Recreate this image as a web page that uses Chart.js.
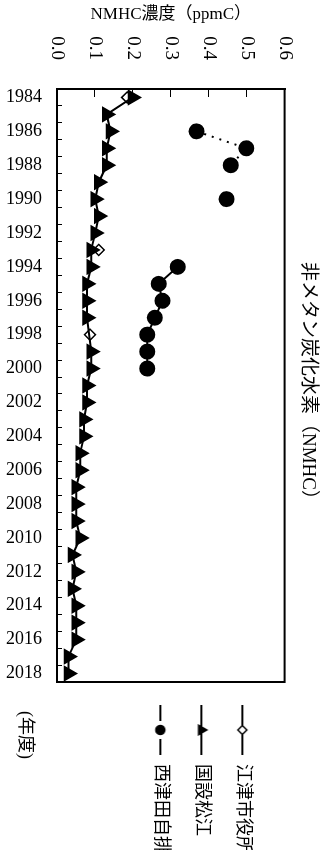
<!DOCTYPE html>
<html>
<head>
<meta charset="utf-8">
<script src="https://cdn.jsdelivr.net/npm/chart.js@4"></script>
<style>
  html, body { margin: 0; padding: 0; background: #fff; overflow: hidden; }
  /* chart is drawn landscape and turned a quarter clockwise */
  #wrap { position: absolute; left: 0; top: 0; width: 850px; height: 333px;
          transform-origin: 0 0; transform: translate(333px, 0) rotate(90deg); }
</style>
</head>
<body>
<div id="wrap"><canvas id="nmhc" width="850" height="333"></canvas></div>
<script>
const years = ["1984", "1985", "1986", "1987", "1988", "1989", "1990", "1991", "1992", "1993",
  "1994", "1995", "1996", "1997", "1998", "1999", "2000", "2001", "2002", "2003",
  "2004", "2005", "2006", "2007", "2008", "2009", "2010", "2011", "2012", "2013",
  "2014", "2015", "2016", "2017", "2018"];

// 江津市役所
const gotsu = [0.185, null, null, null, null, null, null, null, null, 0.11,
  null, null, null, null, 0.087, null, null, null, null, null,
  null, null, null, null, null, null, null, null, null, null,
  null, null, null, null, null];

// 国設松江
const matsue = [0.199, 0.131, 0.141, 0.131, 0.131, 0.110, 0.101, 0.110, 0.101, 0.090,
  0.090, 0.079, 0.079, 0.079, null, 0.090, 0.090, 0.079, 0.079, 0.071,
  0.071, 0.061, 0.061, 0.051, 0.051, 0.051, 0.061, 0.041, 0.051, 0.041,
  0.051, 0.051, 0.051, 0.030, 0.030];

// 西津田自排
const nishitsuda = [null, null, 0.368, 0.499, 0.458, null, 0.447, null, null, null,
  0.318, 0.268, 0.278, 0.258, 0.238, 0.238, 0.238, null, null, null,
  null, null, null, null, null, null, null, null, null, null,
  null, null, null, null, null];

const yTicks = [0, 0.1, 0.2, 0.3, 0.4, 0.5, 0.6];

const serif = "'Liberation Serif', 'Noto Sans CJK JP', serif";
Chart.defaults.color = "#000";
Chart.defaults.font.family = serif;

// legend symbol: line with the marker in the middle
function legendIcon(style, radius, fill, gap) {
  const c = document.createElement("canvas");
  c.width = 50;
  c.height = 18;
  const g = c.getContext("2d");
  g.strokeStyle = "#000";
  g.lineWidth = 2;
  g.beginPath();
  if (gap) {
    g.moveTo(0, 9); g.lineTo(16, 9);
    g.moveTo(34, 9); g.lineTo(50, 9);
  } else {
    g.moveTo(0, 9); g.lineTo(50, 9);
  }
  g.stroke();
  g.fillStyle = fill;
  g.lineWidth = 1.5;
  Chart.helpers.drawPoint(g, { pointStyle: style, radius: radius, borderWidth: 1.5, rotation: 0 }, 25, 9);
  return c;
}
const icons = [
  legendIcon("rectRot", 4.5, "#fff", false),
  legendIcon("triangle", 5.5, "#000", false),
  legendIcon("circle", 4.5, "#000", true),
];

const framePlugin = {
  id: "frame",
  afterDraw(chart) {
    const { ctx, chartArea: a } = chart;
    ctx.save();
    ctx.strokeStyle = "#000";
    ctx.lineWidth = 2;
    ctx.strokeRect(a.left, a.top, a.right - a.left, a.bottom - a.top);
    ctx.fillStyle = "#000";
    ctx.font = "18px " + serif;
    ctx.textAlign = "center";
    ctx.textBaseline = "middle";
    ctx.fillText("(年度)", a.right + 53, a.bottom + 32);
    ctx.restore();
  },
};

new Chart(document.getElementById("nmhc").getContext("2d"), {
  type: "line",
  data: {
    labels: years,
    datasets: [
      {
        label: "江津市役所",
        data: gotsu,
        showLine: false,
        order: 1,
        pointStyle: "rectRot",
        pointRadius: 5.5,
        pointBackgroundColor: "#fff",
        pointBorderColor: "#000",
        pointBorderWidth: 1.5,
        borderColor: "#000",
      },
      {
        label: "国設松江",
        data: matsue,
        order: 0,
        spanGaps: true,
        borderColor: "#000",
        borderWidth: 2,
        pointStyle: "triangle",
        pointRadius: 7.5,
        pointBackgroundColor: "#000",
        pointBorderColor: "#000",
      },
      {
        label: "西津田自排",
        data: nishitsuda,
        order: 2,
        borderColor: "#000",
        borderWidth: 2,
        pointStyle: "circle",
        pointRadius: 7,
        pointBackgroundColor: "#000",
        pointBorderColor: "#000",
        segment: {
          borderDash: (c) => (c.p0DataIndex < 4 ? [2, 6] : undefined),
        },
      },
    ],
  },
  options: {
    responsive: false,
    animation: false,
    devicePixelRatio: 1,
    layout: { padding: 0 },
    plugins: {
      tooltip: { enabled: false },
      title: {
        display: true,
        fullSize: false,
        text: "非メタン炭化水素（NMHC）",
        font: { size: 19, weight: "normal" },
        padding: { top: 8, bottom: 12 },
      },
      legend: {
        position: "right",
        align: "start",
        maxWidth: 168,
        title: { display: true, text: " ", font: { size: 18 }, padding: { top: 37, bottom: 0 } },
        labels: {
          usePointStyle: true,
          pointStyleWidth: 50,
          padding: 23,
          font: { size: 18 },
          sort: (a, b) => a.datasetIndex - b.datasetIndex,
          generateLabels(chart) {
            const items = Chart.defaults.plugins.legend.labels.generateLabels(chart);
            items.forEach((it) => { it.pointStyle = icons[it.datasetIndex]; });
            return items;
          },
        },
      },
    },
    scales: {
      x: {
        type: "category",
        offset: true,
        grid: { offset: true, drawOnChartArea: false, tickLength: -5, color: "#000" },
        border: { color: "#000", width: 2 },
        ticks: {
          autoSkip: false,
          minRotation: 90,
          maxRotation: 90,
          padding: 20,
          font: { size: 18 },
          callback: (v, i) => (i % 2 === 0 ? years[i] : ""),
        },
        afterFit: (s) => { s.height = 57; },
      },
      y: {
        min: 0,
        max: 0.6,
        afterBuildTicks: (s) => { s.ticks = yTicks.map((v) => ({ value: v })); },
        grid: { drawOnChartArea: false, tickLength: -8, color: "#000" },
        border: { color: "#000", width: 2 },
        ticks: {
          padding: 37,
          font: { size: 19 },
          callback: (v) => Number(v).toFixed(1),
        },
        title: {
          display: true,
          text: "NMHC濃度（ppmC）",
          font: { size: 17 },
          padding: { top: 4, bottom: 0 },
        },
        afterFit: (s) => { s.width = 89; },
      },
    },
  },
  plugins: [framePlugin],
});
</script>
</body>
</html>
